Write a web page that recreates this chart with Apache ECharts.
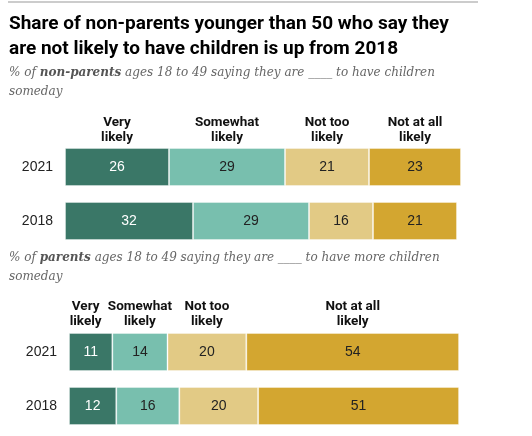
<!DOCTYPE html>
<html>
<head>
<meta charset="utf-8">
<script src="https://cdn.jsdelivr.net/npm/echarts@6/dist/echarts.min.js"></script>
<style>
html,body{margin:0;padding:0;background:#fff;}
#chart{width:532px;height:436px;}
</style>
</head>
<body>
<div id="chart"></div>
<script>
var years = ['2021', '2018'];
var categories = ['Very\nlikely', 'Somewhat\nlikely', 'Not too\nlikely', 'Not at all\nlikely'];
// non-parents: [2021, 2018]
var nonParentsVery = [26, 32];
var nonParentsSomewhat = [29, 29];
var nonParentsNotToo = [21, 16];
var nonParentsNotAtAll = [23, 21];
// parents: [2021, 2018]
var parentsVery = [11, 12];
var parentsSomewhat = [14, 16];
var parentsNotToo = [20, 20];
var parentsNotAtAll = [54, 51];

var colors = ['#3a7767', '#78bfae', '#e2ca85', '#d3a630'];
var labelColors = ['#ffffff', '#222222', '#222222', '#222222'];

var chart = echarts.init(document.getElementById('chart'));

function makeSeries(name, data, idx, gridIdx) {
  return {
    type: 'bar',
    name: name,
    stack: 'g' + gridIdx,
    xAxisIndex: gridIdx,
    yAxisIndex: gridIdx,
    barWidth: 38,
    data: data,
    itemStyle: { color: colors[idx], borderColor: 'rgba(255,255,255,0.35)', borderWidth: 1 },
    label: {
      show: true,
      position: 'inside',
      color: labelColors[idx],
      fontFamily: 'Liberation Sans',
      fontSize: 14
    },
    emphasis: { disabled: true },
    silent: true
  };
}

var nonParentSets = [nonParentsVery, nonParentsSomewhat, nonParentsNotToo, nonParentsNotAtAll];
var parentSets = [parentsVery, parentsSomewhat, parentsNotToo, parentsNotAtAll];

var series = [];
nonParentSets.forEach(function (d, i) { series.push(makeSeries(categories[i], d, i, 0)); });
parentSets.forEach(function (d, i) { series.push(makeSeries(categories[i], d, i, 1)); });

function yAx(gi) {
  return {
    type: 'category', gridIndex: gi, data: years, inverse: true,
    axisLine: { show: false }, axisTick: { show: false }, splitLine: { show: false },
    axisLabel: { color: '#222', fontFamily: 'Liberation Sans', fontSize: 14, margin: 12 }
  };
}
function xAx(gi) {
  return { type: 'value', gridIndex: gi, min: 0, max: 100, show: false };
}

var option = {
  animation: false,
  grid: [
    { left: 65, width: 400, top: 140, height: 108 },
    { left: 69, width: 394, top: 325, height: 108 }
  ],
  xAxis: [xAx(0), xAx(1)],
  yAxis: [yAx(0), yAx(1)],
  series: series
};
chart.setOption(option);

var subRich = {
  n: { font: 'italic 12px "DejaVu Serif"', fill: '#666', lineHeight: 19 },
  b: { font: 'italic bold 12px "DejaVu Serif"', fill: '#555', lineHeight: 19 }
};

var graphics = [
  { type: 'line', shape: { x1: 8, y1: 2, x2: 478, y2: 2 }, style: { stroke: '#cccccc', lineWidth: 2 } },
  { type: 'text', left: 9, top: 12, style: {
      text: 'Share of non-parents younger than 50 who say they\nare not likely to have children is up from 2018',
      font: 'bold 19px Roboto', fill: '#000', lineHeight: 25 } },
  { type: 'text', left: 9, top: 67, style: {
      text: '{n|% of }{b|non-parents}{n| ages 18 to 49 saying they are ____ to have children}\n{n|someday}',
      rich: subRich } },
  { type: 'text', left: 9, top: 252, style: {
      text: '{n|% of }{b|parents}{n| ages 18 to 49 saying they are ____ to have more children}\n{n|someday}',
      rich: subRich } }
];

// headers centered over 2021 segments
function addHeaders(sets, gi, yCenter, shifts) {
  var cum = 0;
  sets.forEach(function (d, i) {
    var mid = cum + d[0] / 2;
    cum += d[0];
    var p = chart.convertToPixel({ gridIndex: gi }, [mid, 0]);
    graphics.push({
      type: 'text', x: p[0] + (shifts[i] || 0), y: yCenter,
      style: {
        text: categories[i], font: 'bold 13.5px Roboto', fill: '#111',
        align: 'center', verticalAlign: 'middle', lineHeight: 15
      }
    });
  });
}
addHeaders(nonParentSets, 0, 130, [0, 0, 0, 0]);
addHeaders(parentSets, 1, 314.5, [-5, 0, 0, 0]);

chart.setOption({ graphic: graphics });
</script>
</body>
</html>
